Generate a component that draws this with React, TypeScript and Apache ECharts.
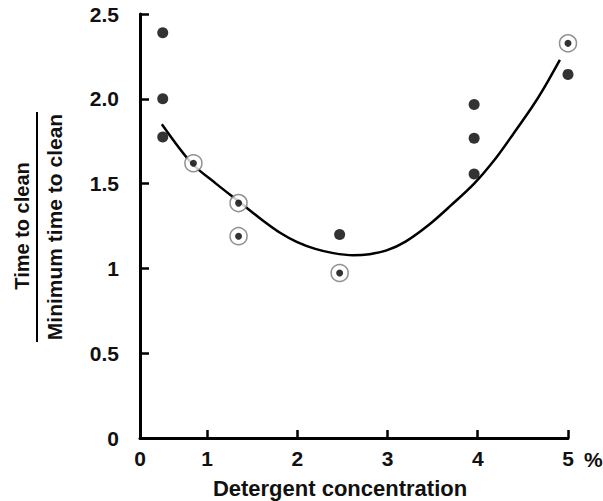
import React, { useEffect, useRef } from "react";
import * as echarts from "echarts";

const filledX = [0.51, 0.51, 0.51, 2.47, 3.96, 3.96, 3.96, 5.0];
const filledY = [2.39, 2.0, 1.775, 1.2, 1.967, 1.767, 1.557, 2.144];
const openX = [0.85, 1.35, 1.35, 2.47, 5.0];
const openY = [1.62, 1.385, 1.19, 0.973, 2.327];
const curveX = [0.5, 0.83, 1.1, 1.37, 1.6, 1.81, 2.0, 2.2, 2.4, 2.62, 2.8, 2.99, 3.2, 3.47, 3.7, 3.96, 4.2, 4.39, 4.6, 4.73, 4.91];
const curveY = [1.85, 1.62, 1.5, 1.387, 1.29, 1.21, 1.155, 1.115, 1.09, 1.078, 1.084, 1.106, 1.158, 1.262, 1.37, 1.5, 1.65, 1.79, 1.95, 2.06, 2.23];
const yTickLabels: Record<string, string> = { "0": "0", "0.5": "0.5", "1": "1", "1.5": "1.5", "2": "2.0", "2.5": "2.5" };
const xTickLabels: Record<string, string> = { "1": "1", "2": "2", "3": "3", "4": "4", "5": "5" };
const xOriginLabel = "0";
const yNameTop = "Time to clean";
const yNameBottom = "Minimum time to clean";
const xName = "Detergent concentration";
const xUnit = "%";

const FONT = "'Liberation Sans', Arial, sans-serif";

export default function App() {
  const ref = useRef<HTMLDivElement>(null);
  useEffect(() => {
    if (!ref.current) return;
    const chart = echarts.init(ref.current, undefined, { renderer: "svg" });
    const pair = (xs: number[], ys: number[]) => xs.map((x, i) => [x, ys[i]]);
    chart.setOption({
      animation: false,
      backgroundColor: "#ffffff",
      grid: { left: 140, right: 35, top: 14, bottom: 63 },
      xAxis: {
        type: "value",
        min: 0.258,
        max: 5,
        splitNumber: 5,
        splitLine: { show: false },
        axisLine: { show: true, lineStyle: { color: "#000", width: 3 } },
        axisTick: { show: true, inside: true, length: 8, lineStyle: { color: "#000", width: 2.5 } },
        axisLabel: {
          showMinLabel: true,
          margin: 10,
          color: "#111",
          fontFamily: FONT,
          fontWeight: "bold",
          fontSize: 21,
          formatter: (v: number) => (v < 0.5 ? xOriginLabel : xTickLabels[String(v)] ?? ""),
        },
      },
      yAxis: {
        type: "value",
        min: 0,
        max: 2.5,
        interval: 0.5,
        splitLine: { show: false },
        axisLine: { show: true, lineStyle: { color: "#000", width: 3 } },
        axisTick: { show: true, inside: true, length: 9, lineStyle: { color: "#000", width: 2.5 } },
        axisLabel: {
          margin: 21,
          color: "#111",
          fontFamily: FONT,
          fontWeight: "bold",
          fontSize: 21,
          formatter: (v: number) => yTickLabels[String(v)] ?? "",
        },
      },
      series: [
        {
          type: "line",
          data: pair(curveX, curveY),
          smooth: 0.3,
          showSymbol: false,
          symbol: "none",
          lineStyle: { color: "#000", width: 2.5 },
          z: 2,
        },
        {
          type: "scatter",
          data: pair(openX, openY),
          symbol: "circle",
          symbolSize: 17,
          itemStyle: { color: "#fff", borderColor: "#777", borderWidth: 1.5 },
          z: 3,
        },
        {
          type: "scatter",
          data: pair(openX, openY),
          symbol: "circle",
          symbolSize: 7,
          itemStyle: { color: "#000" },
          z: 4,
        },
        {
          type: "scatter",
          data: pair(filledX, filledY),
          symbol: "circle",
          symbolSize: 11,
          itemStyle: { color: "#000" },
          z: 4,
        },
      ],
      graphic: [
        {
          type: "text",
          x: 22,
          y: 226,
          rotation: Math.PI / 2,
          style: { text: yNameTop, fill: "#111", font: `bold 20px ${FONT}`, align: "center", verticalAlign: "middle" },
        },
        {
          type: "line",
          shape: { x1: 37, y1: 112, x2: 37, y2: 342 },
          style: { stroke: "#000", lineWidth: 2 },
        },
        {
          type: "text",
          x: 54,
          y: 227,
          rotation: Math.PI / 2,
          style: { text: yNameBottom, fill: "#111", font: `bold 21px ${FONT}`, align: "center", verticalAlign: "middle" },
        },
        {
          type: "text",
          x: 340,
          y: 488,
          style: { text: xName, fill: "#111", font: `bold 22px ${FONT}`, align: "center", verticalAlign: "middle" },
        },
        {
          type: "text",
          x: 584,
          y: 459,
          style: { text: xUnit, fill: "#111", font: `bold 21px ${FONT}`, align: "left", verticalAlign: "middle" },
        },
      ],
    });
    return () => chart.dispose();
  }, []);
  return <div ref={ref} style={{ position: "fixed", left: 0, top: 0, width: 603, height: 501 }} />;
}
